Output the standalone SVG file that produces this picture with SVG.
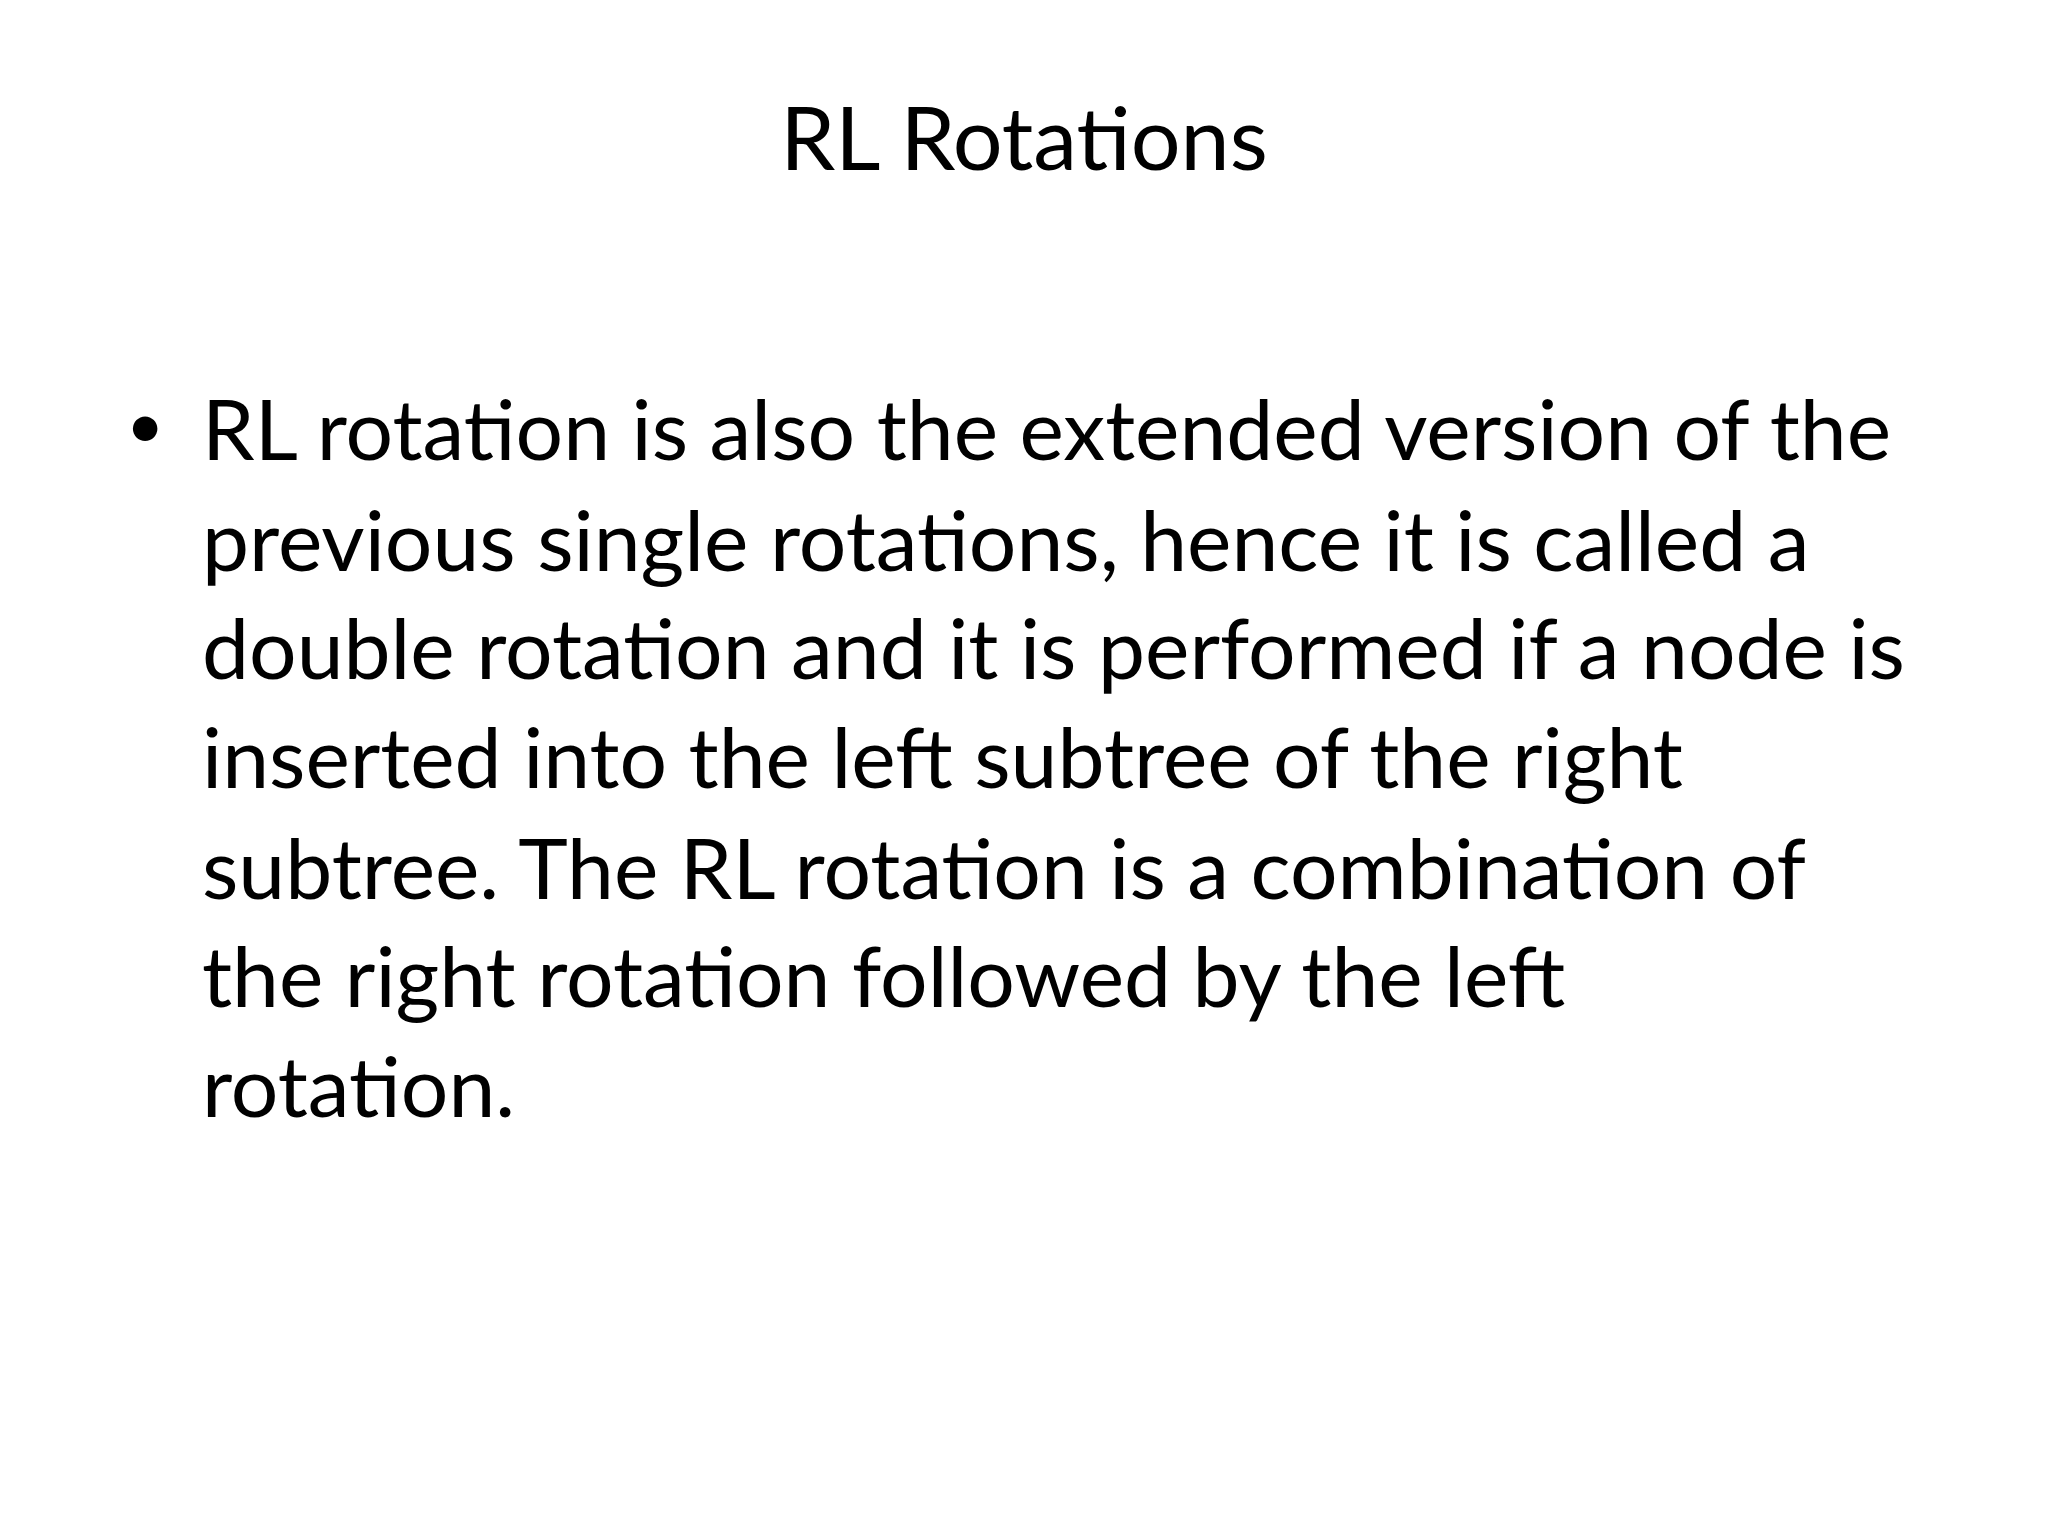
<svg xmlns="http://www.w3.org/2000/svg" width="2048" height="1536" viewBox="0 0 2048 1536">
<style>
text{font-family:Lato,"Open Sans","DejaVu Sans",sans-serif;fill:#000}
.t{font-size:88px}
.b{font-size:84px}
</style>
<rect width="2048" height="1536" fill="#fff"/>
<g id="title"><text class="t" x="1024" y="170" text-anchor="middle">RL Rotations</text></g>
<g id="body">
<text x="126" y="448" style="font-size:66px">•</text>
<text class="b" x="202" y="460">RL rotation is also the extended version of the</text>
<text class="b" x="202" y="571">previous single rotations, hence it is called a</text>
<text class="b" x="202" y="679">double rotation and it is performed if a node is</text>
<text class="b" x="202" y="788">inserted into the left subtree of the right</text>
<text class="b" x="202" y="899">subtree. The RL rotation is a combination of</text>
<text class="b" x="202" y="1007">the right rotation followed by the left</text>
<text class="b" x="202" y="1117">rotation.</text>
</g>
</svg>
